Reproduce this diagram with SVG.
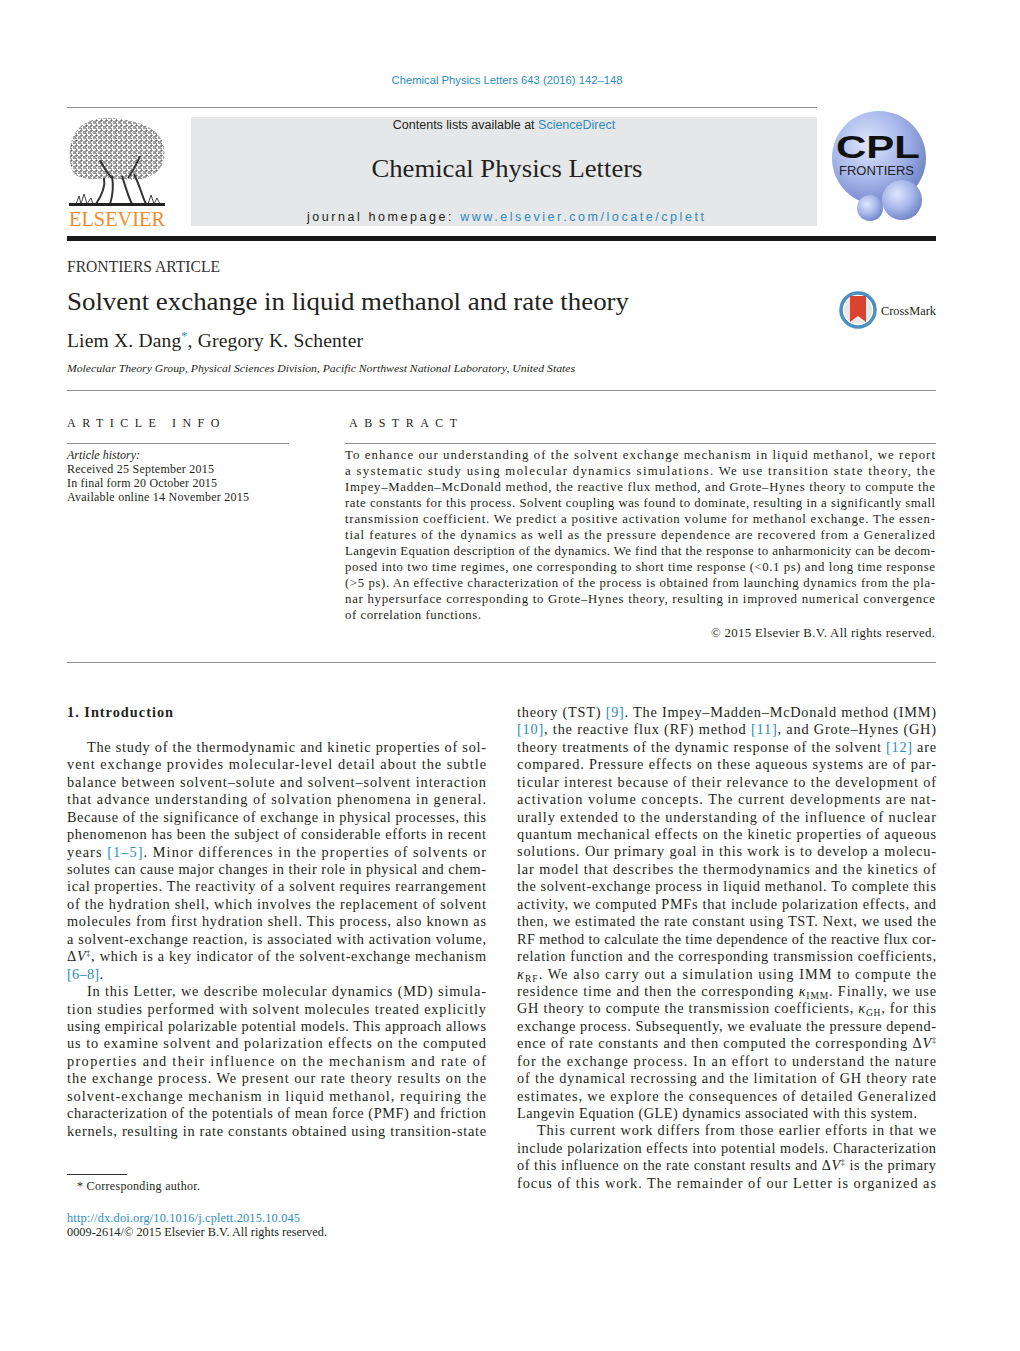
<svg xmlns="http://www.w3.org/2000/svg" width="1020" height="1351" viewBox="0 0 1020 1351">
<defs>
<style>
.b{font-family:"Liberation Serif","Times New Roman",serif;font-size:14.3px;fill:#231f20}
.a{font-family:"Liberation Serif","Times New Roman",serif;font-size:12.8px;fill:#231f20}
.s{font-family:"Liberation Sans",Arial,sans-serif}
.lk{fill:#2a8cbf}
.i{font-style:italic}
.rule{stroke:#8c8c8c;stroke-width:1}
</style>
<radialGradient id="sph" cx="0.38" cy="0.35" r="0.7">
<stop offset="0" stop-color="#dfe6fb"/>
<stop offset="0.55" stop-color="#a6b6ea"/>
<stop offset="1" stop-color="#6d82c6"/>
</radialGradient>
<pattern id="leaf" width="5" height="5" patternUnits="userSpaceOnUse">
<rect width="5" height="5" fill="#fff"/>
<path d="M0 1h2M3 3h2M1 4h1M2 0v1M4 1v1M0 3h1" stroke="#222" stroke-width="0.9"/>
</pattern>
</defs>
<rect width="1020" height="1351" fill="#fff"/>

<g id="header">
<text x="507" y="84" text-anchor="middle" class="s lk" font-size="11" textLength="231" lengthAdjust="spacingAndGlyphs">Chemical Physics Letters 643 (2016) 142–148</text>
<line x1="67" y1="107.5" x2="817" y2="107.5" class="rule"/>
<rect x="191" y="117" width="626" height="109" fill="#e6e7e8"/>
<text x="504" y="129" text-anchor="middle" class="s" font-size="12.5" fill="#231f20">Contents lists available at <tspan class="lk">ScienceDirect</tspan></text>
<text x="507" y="177" text-anchor="middle" font-family="Liberation Serif,serif" font-size="25" fill="#231f20" textLength="271" lengthAdjust="spacingAndGlyphs">Chemical Physics Letters</text>
<text x="307" y="221" class="s" font-size="12.5" fill="#231f20" textLength="397" lengthAdjust="spacing">journal homepage: <tspan class="lk">www.elsevier.com/locate/cplett</tspan></text>
<rect x="67" y="236" width="869" height="5" fill="#1a1a1a"/>
</g>

<g id="elsevier-logo">
<path d="M72 170 C66 150 72 128 88 122 C100 116 118 118 130 121 C146 124 162 132 164 148 C166 162 160 172 150 176 C140 182 120 180 108 178 C92 180 76 180 72 170 Z" fill="url(#leaf)"/>
<path d="M104 178 C106 188 100 198 96 204 M112 176 C114 188 112 198 110 204 M122 176 C126 188 128 196 132 204 M134 174 C140 186 142 196 146 204 M100 160 C104 168 108 174 112 178 M140 156 C136 166 132 172 128 178" stroke="#333" stroke-width="2" fill="none"/>
<path d="M76 204 l3 -8 l2 8 l3 -10 l3 10 l4 -6 l2 6 M148 204 l3 -9 l3 9 l3 -6 l3 6" stroke="#444" stroke-width="1" fill="none"/>
<rect x="69" y="203" width="96" height="3" fill="#222"/>
<text x="69" y="226" font-family="Liberation Serif,serif" font-size="21" fill="#f28c28" textLength="96" lengthAdjust="spacingAndGlyphs">ELSEVIER</text>
</g>

<g id="cpl-logo">
<circle cx="879" cy="158" r="47" fill="url(#sph)"/>
<circle cx="902" cy="200" r="20" fill="url(#sph)"/>
<circle cx="870" cy="208" r="13" fill="url(#sph)"/>
<text x="836" y="158" font-family="Liberation Sans,Arial,sans-serif" font-weight="bold" font-size="32" fill="#111" textLength="84" lengthAdjust="spacingAndGlyphs">CPL</text>
<text x="839" y="175" font-family="Liberation Sans,Arial,sans-serif" font-size="12.5" fill="#222" textLength="75" lengthAdjust="spacingAndGlyphs">FRONTIERS</text>
</g>

<g id="title-block">
<text x="67" y="272" font-family="Liberation Serif,serif" font-size="16" fill="#333" textLength="153" lengthAdjust="spacingAndGlyphs">FRONTIERS ARTICLE</text>
<text x="67" y="310" font-family="Liberation Serif,serif" font-size="25" fill="#231f20" textLength="562" lengthAdjust="spacingAndGlyphs">Solvent exchange in liquid methanol and rate theory</text>
<text x="67" y="347" font-family="Liberation Serif,serif" font-size="19.5" fill="#231f20" textLength="296" lengthAdjust="spacing">Liem X. Dang<tspan class="lk" font-size="12" dy="-7">*</tspan><tspan dy="7">, Gregory K. Schenter</tspan></text>
<text x="67" y="372" font-family="Liberation Serif,serif" font-size="11" font-style="italic" fill="#231f20" textLength="508" lengthAdjust="spacingAndGlyphs">Molecular Theory Group, Physical Sciences Division, Pacific Northwest National Laboratory, United States</text>
<line x1="67" y1="390.5" x2="936" y2="390.5" class="rule"/>
</g>

<g id="crossmark">
<circle cx="858" cy="310" r="17" fill="#fff" stroke="#4a90c2" stroke-width="3.5"/>
<circle cx="858" cy="310" r="14" fill="#e8e8e8"/>
<path d="M850 296 h16 v26 l-8 -6 l-8 6 Z" fill="#d9432f"/>
<text x="881" y="315" font-family="Liberation Serif,serif" font-size="12" fill="#231f20" textLength="55" lengthAdjust="spacingAndGlyphs">CrossMark</text>
</g>

<g id="article-info">
<text x="67" y="427" font-family="Liberation Serif,serif" font-size="12" fill="#231f20" letter-spacing="6.5">ARTICLE INFO</text>
<line x1="67" y1="443.5" x2="289" y2="443.5" class="rule"/>
<text x="67" y="459" font-family="Liberation Serif,serif" font-size="12" font-style="italic" fill="#231f20">Article history:</text>
<text x="67" y="473" font-family="Liberation Serif,serif" font-size="12" fill="#231f20" textLength="147" lengthAdjust="spacing">Received 25 September 2015</text>
<text x="67" y="487" font-family="Liberation Serif,serif" font-size="12" fill="#231f20" textLength="150" lengthAdjust="spacing">In final form 20 October 2015</text>
<text x="67" y="501" font-family="Liberation Serif,serif" font-size="12" fill="#231f20" textLength="182" lengthAdjust="spacing">Available online 14 November 2015</text>
</g>

<g id="abstract">
<text x="349" y="427" font-family="Liberation Serif,serif" font-size="12" fill="#231f20" letter-spacing="6.5">ABSTRACT</text>
<line x1="345" y1="443.5" x2="936" y2="443.5" class="rule"/>
<text class="a" x="345" y="459" textLength="590" lengthAdjust="spacing">To enhance our understanding of the solvent exchange mechanism in liquid methanol, we report</text>
<text class="a" x="345" y="475" textLength="590" lengthAdjust="spacing">a systematic study using molecular dynamics simulations. We use transition state theory, the</text>
<text class="a" x="345" y="491" textLength="590" lengthAdjust="spacing">Impey–Madden–McDonald method, the reactive flux method, and Grote–Hynes theory to compute the</text>
<text class="a" x="345" y="507" textLength="590" lengthAdjust="spacing">rate constants for this process. Solvent coupling was found to dominate, resulting in a significantly small</text>
<text class="a" x="345" y="523" textLength="590" lengthAdjust="spacing">transmission coefficient. We predict a positive activation volume for methanol exchange. The essen-</text>
<text class="a" x="345" y="539" textLength="590" lengthAdjust="spacing">tial features of the dynamics as well as the pressure dependence are recovered from a Generalized</text>
<text class="a" x="345" y="555" textLength="590" lengthAdjust="spacing">Langevin Equation description of the dynamics. We find that the response to anharmonicity can be decom-</text>
<text class="a" x="345" y="571" textLength="590" lengthAdjust="spacing">posed into two time regimes, one corresponding to short time response (&lt;0.1 ps) and long time response</text>
<text class="a" x="345" y="587" textLength="590" lengthAdjust="spacing">(&gt;5 ps). An effective characterization of the process is obtained from launching dynamics from the pla-</text>
<text class="a" x="345" y="603" textLength="590" lengthAdjust="spacing">nar hypersurface corresponding to Grote–Hynes theory, resulting in improved numerical convergence</text>
<text class="a" x="345" y="619" textLength="136" lengthAdjust="spacing">of correlation functions.</text>
<text class="a" x="935" y="637" text-anchor="end" textLength="224" lengthAdjust="spacing">© 2015 Elsevier B.V. All rights reserved.</text>
<line x1="67" y1="662.5" x2="936" y2="662.5" class="rule"/>
</g>

<g id="column-left">
<text class="b" x="67" y="717" font-weight="bold" textLength="106" lengthAdjust="spacing">1.  Introduction</text>
<text class="b" x="87" y="752" textLength="399" lengthAdjust="spacing">The study of the thermodynamic and kinetic properties of sol-</text>
<text class="b" x="67" y="769.4" textLength="419" lengthAdjust="spacing">vent exchange provides molecular-level detail about the subtle</text>
<text class="b" x="67" y="786.9" textLength="419" lengthAdjust="spacing">balance between solvent–solute and solvent–solvent interaction</text>
<text class="b" x="67" y="804.3" textLength="419" lengthAdjust="spacing">that advance understanding of solvation phenomena in general.</text>
<text class="b" x="67" y="821.7" textLength="419" lengthAdjust="spacing">Because of the significance of exchange in physical processes, this</text>
<text class="b" x="67" y="839.2" textLength="419" lengthAdjust="spacing">phenomenon has been the subject of considerable efforts in recent</text>
<text class="b" x="67" y="856.6" textLength="419" lengthAdjust="spacing">years <tspan class="lk">[1–5]</tspan>. Minor differences in the properties of solvents or</text>
<text class="b" x="67" y="874.0" textLength="419" lengthAdjust="spacing">solutes can cause major changes in their role in physical and chem-</text>
<text class="b" x="67" y="891.4" textLength="419" lengthAdjust="spacing">ical properties. The reactivity of a solvent requires rearrangement</text>
<text class="b" x="67" y="908.9" textLength="419" lengthAdjust="spacing">of the hydration shell, which involves the replacement of solvent</text>
<text class="b" x="67" y="926.3" textLength="419" lengthAdjust="spacing">molecules from first hydration shell. This process, also known as</text>
<text class="b" x="67" y="943.7" textLength="419" lengthAdjust="spacing">a solvent-exchange reaction, is associated with activation volume,</text>
<text class="b" x="67" y="961.2" textLength="419" lengthAdjust="spacing">Δ<tspan class="i">V</tspan><tspan font-size="8" dy="-5">‡</tspan><tspan dy="5">, which is a key indicator of the solvent-exchange mechanism</tspan></text>
<text class="b" x="67" y="978.6" textLength="36" lengthAdjust="spacing"><tspan class="lk">[6–8]</tspan>.</text>
<text class="b" x="87" y="996.0" textLength="399" lengthAdjust="spacing">In this Letter, we describe molecular dynamics (MD) simula-</text>
<text class="b" x="67" y="1013.5" textLength="419" lengthAdjust="spacing">tion studies performed with solvent molecules treated explicitly</text>
<text class="b" x="67" y="1030.9" textLength="419" lengthAdjust="spacing">using empirical polarizable potential models. This approach allows</text>
<text class="b" x="67" y="1048.3" textLength="419" lengthAdjust="spacing">us to examine solvent and polarization effects on the computed</text>
<text class="b" x="67" y="1065.7" textLength="419" lengthAdjust="spacing">properties and their influence on the mechanism and rate of</text>
<text class="b" x="67" y="1083.2" textLength="419" lengthAdjust="spacing">the exchange process. We present our rate theory results on the</text>
<text class="b" x="67" y="1100.6" textLength="419" lengthAdjust="spacing">solvent-exchange mechanism in liquid methanol, requiring the</text>
<text class="b" x="67" y="1118.0" textLength="419" lengthAdjust="spacing">characterization of the potentials of mean force (PMF) and friction</text>
<text class="b" x="67" y="1135.5" textLength="419" lengthAdjust="spacing">kernels, resulting in rate constants obtained using transition-state</text>
</g>

<g id="column-right">
<text class="b" x="517" y="717" textLength="419" lengthAdjust="spacing">theory (TST) <tspan class="lk">[9]</tspan>. The Impey–Madden–McDonald method (IMM)</text>
<text class="b" x="517" y="734.4" textLength="419" lengthAdjust="spacing"><tspan class="lk">[10]</tspan>, the reactive flux (RF) method <tspan class="lk">[11]</tspan>, and Grote–Hynes (GH)</text>
<text class="b" x="517" y="751.9" textLength="419" lengthAdjust="spacing">theory treatments of the dynamic response of the solvent <tspan class="lk">[12]</tspan> are</text>
<text class="b" x="517" y="769.3" textLength="419" lengthAdjust="spacing">compared. Pressure effects on these aqueous systems are of par-</text>
<text class="b" x="517" y="786.7" textLength="419" lengthAdjust="spacing">ticular interest because of their relevance to the development of</text>
<text class="b" x="517" y="804.2" textLength="419" lengthAdjust="spacing">activation volume concepts. The current developments are nat-</text>
<text class="b" x="517" y="821.6" textLength="419" lengthAdjust="spacing">urally extended to the understanding of the influence of nuclear</text>
<text class="b" x="517" y="839.0" textLength="419" lengthAdjust="spacing">quantum mechanical effects on the kinetic properties of aqueous</text>
<text class="b" x="517" y="856.4" textLength="419" lengthAdjust="spacing">solutions. Our primary goal in this work is to develop a molecu-</text>
<text class="b" x="517" y="873.9" textLength="419" lengthAdjust="spacing">lar model that describes the thermodynamics and the kinetics of</text>
<text class="b" x="517" y="891.3" textLength="419" lengthAdjust="spacing">the solvent-exchange process in liquid methanol. To complete this</text>
<text class="b" x="517" y="908.7" textLength="419" lengthAdjust="spacing">activity, we computed PMFs that include polarization effects, and</text>
<text class="b" x="517" y="926.2" textLength="419" lengthAdjust="spacing">then, we estimated the rate constant using TST. Next, we used the</text>
<text class="b" x="517" y="943.6" textLength="419" lengthAdjust="spacing">RF method to calculate the time dependence of the reactive flux cor-</text>
<text class="b" x="517" y="961.0" textLength="419" lengthAdjust="spacing">relation function and the corresponding transmission coefficients,</text>
<text class="b" x="517" y="978.5" textLength="419" lengthAdjust="spacing"><tspan class="i">κ</tspan><tspan font-size="9.5" dy="3">RF</tspan><tspan dy="-3">. We also carry out a simulation using IMM to compute the</tspan></text>
<text class="b" x="517" y="995.9" textLength="419" lengthAdjust="spacing">residence time and then the corresponding <tspan class="i">κ</tspan><tspan font-size="9.5" dy="3">IMM</tspan><tspan dy="-3">. Finally, we use</tspan></text>
<text class="b" x="517" y="1013.3" textLength="419" lengthAdjust="spacing">GH theory to compute the transmission coefficients, <tspan class="i">κ</tspan><tspan font-size="9.5" dy="3">GH</tspan><tspan dy="-3">, for this</tspan></text>
<text class="b" x="517" y="1030.7" textLength="419" lengthAdjust="spacing">exchange process. Subsequently, we evaluate the pressure depend-</text>
<text class="b" x="517" y="1048.2" textLength="419" lengthAdjust="spacing">ence of rate constants and then computed the corresponding Δ<tspan class="i">V</tspan><tspan font-size="8" dy="-5">‡</tspan></text>
<text class="b" x="517" y="1065.6" textLength="419" lengthAdjust="spacing">for the exchange process. In an effort to understand the nature</text>
<text class="b" x="517" y="1083.0" textLength="419" lengthAdjust="spacing">of the dynamical recrossing and the limitation of GH theory rate</text>
<text class="b" x="517" y="1100.5" textLength="419" lengthAdjust="spacing">estimates, we explore the consequences of detailed Generalized</text>
<text class="b" x="517" y="1117.9" textLength="400" lengthAdjust="spacing">Langevin Equation (GLE) dynamics associated with this system.</text>
<text class="b" x="537" y="1135.3" textLength="399" lengthAdjust="spacing">This current work differs from those earlier efforts in that we</text>
<text class="b" x="517" y="1152.8" textLength="419" lengthAdjust="spacing">include polarization effects into potential models. Characterization</text>
<text class="b" x="517" y="1170.2" textLength="419" lengthAdjust="spacing">of this influence on the rate constant results and Δ<tspan class="i">V</tspan><tspan font-size="8" dy="-5">‡</tspan><tspan dy="5"> is the primary</tspan></text>
<text class="b" x="517" y="1187.6" textLength="419" lengthAdjust="spacing">focus of this work. The remainder of our Letter is organized as</text>
</g>

<g id="footer">
<line x1="67" y1="1174.5" x2="127" y2="1174.5" stroke="#333" stroke-width="1"/>
<text x="77" y="1190" font-family="Liberation Serif,serif" font-size="12" fill="#231f20" textLength="123" lengthAdjust="spacing">*  Corresponding author.</text>
<text x="67" y="1222" font-family="Liberation Serif,serif" font-size="12.3" class="lk" textLength="233" lengthAdjust="spacing">http://dx.doi.org/10.1016/j.cplett.2015.10.045</text>
<text x="67" y="1236" font-family="Liberation Serif,serif" font-size="12.3" fill="#231f20" textLength="260" lengthAdjust="spacing">0009-2614/© 2015 Elsevier B.V. All rights reserved.</text>
</g>
</svg>
